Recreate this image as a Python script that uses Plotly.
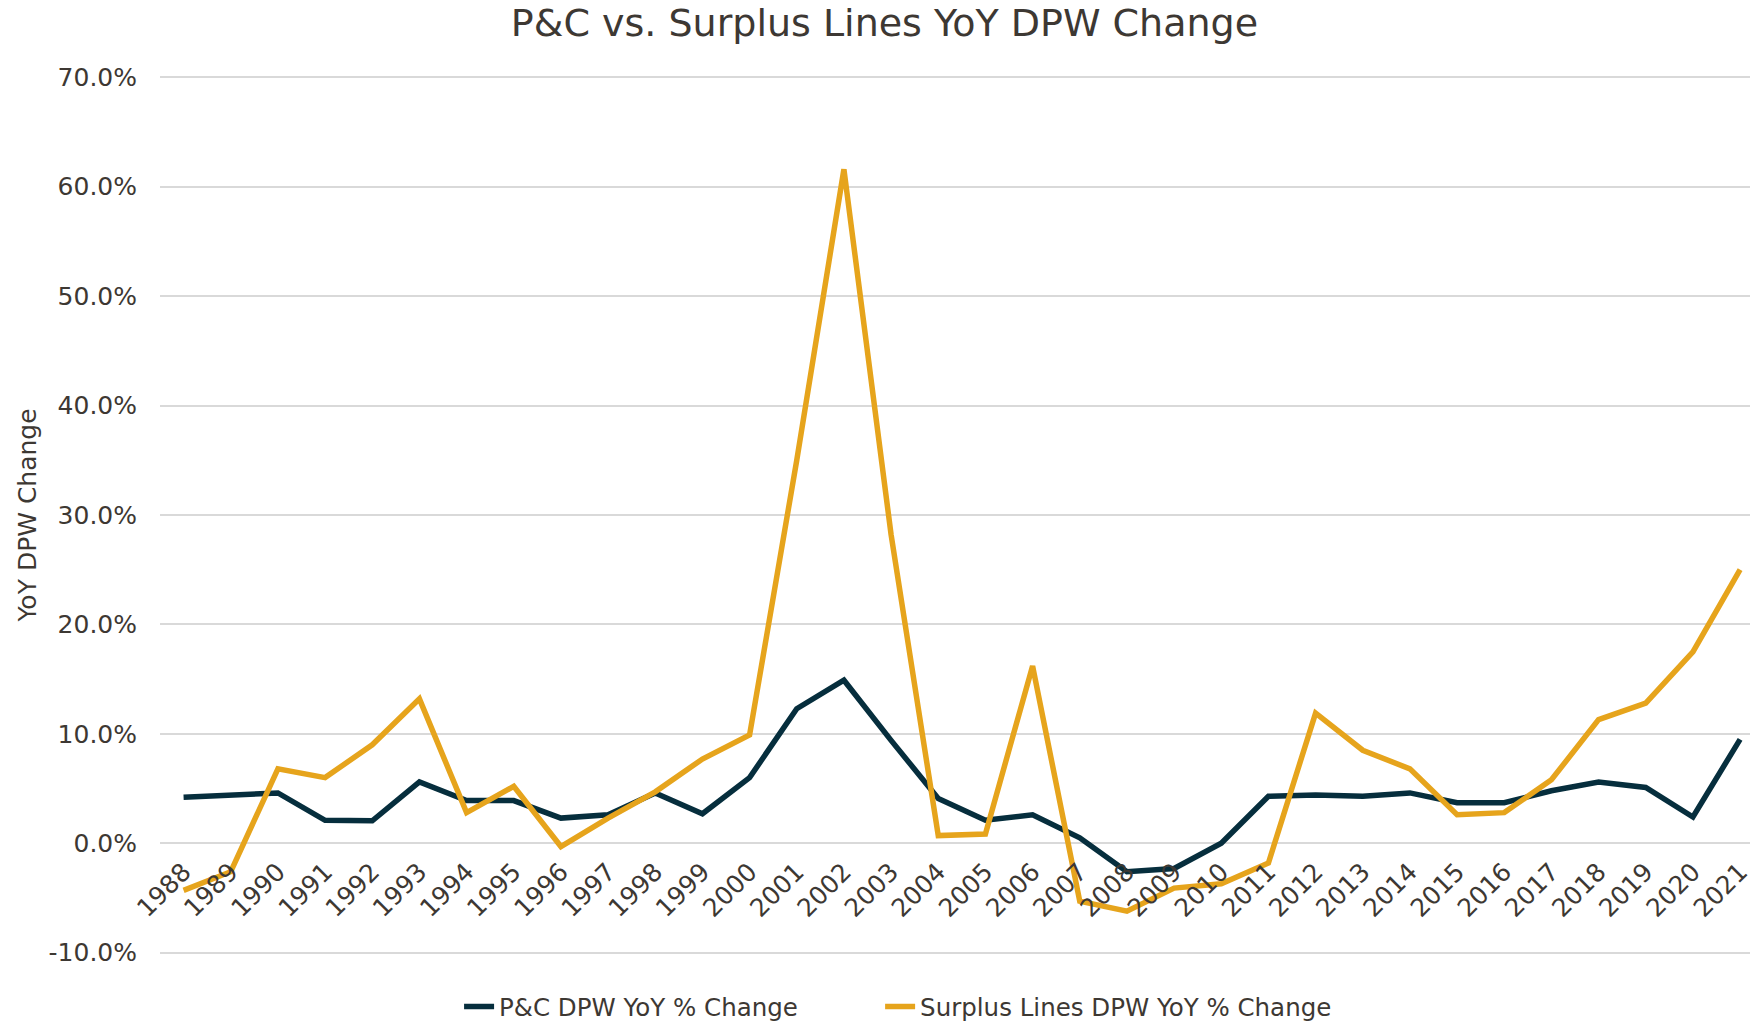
import plotly.graph_objects as go

years = list(range(1988, 2022))
pc_change = [4.2, 4.4, 4.6, 2.1, 2.05, 5.6, 3.9, 3.9, 2.3, 2.6, 4.6, 2.7,
             6.0, 12.3, 14.9, 9.4, 4.1, 2.1, 2.6, 0.5, -2.6, -2.3, 0.0, 4.3,
             4.4, 4.3, 4.6, 3.7, 3.7, 4.8, 5.6, 5.1, 2.4, 9.5]
sl_change = [-4.3, -2.6, 6.8, 6.0, 9.0, 13.2, 2.8, 5.2, -0.3, 2.3, 4.7, 7.7,
             9.9, 35.0, 61.6, 28.2, 0.7, 0.85, 16.2, -5.3, -6.2, -4.1, -3.7, -1.8,
             11.9, 8.5, 6.8, 2.6, 2.8, 5.8, 11.3, 12.8, 17.5, 25.0]
y_ticks = [-10, 0, 10, 20, 30, 40, 50, 60, 70]
y_tick_labels = [f"{v:.1f}%" for v in y_ticks]

NAVY = "#062E3D"
GOLD = "#E6A41C"
TEXT = "#3D3833"
GRID = "#D9D9D9"
FONT = "Verdana, DejaVu Sans, sans-serif"

Y_MIN, Y_MAX = -10.12, 70.12

fig = go.Figure()
fig.add_trace(go.Scatter(x=years, y=pc_change, mode="lines",
                         name="P&C DPW YoY % Change", legend="legend",
                         line=dict(color=NAVY, width=5.5)))
fig.add_trace(go.Scatter(x=years, y=sl_change, mode="lines",
                         name="Surplus Lines DPW YoY % Change", legend="legend2",
                         line=dict(color=GOLD, width=5.5)))

legend_common = dict(orientation="h", xref="paper", xanchor="left",
                     y=-0.06, yanchor="middle",
                     font=dict(family=FONT, size=24.5, color=TEXT),
                     bgcolor="rgba(0,0,0,0)")

fig.update_layout(
    width=1750, height=1021,
    paper_bgcolor="white", plot_bgcolor="white",
    margin=dict(l=160, r=0, t=76, b=67, autoexpand=False),
    font=dict(family=FONT, size=25, color=TEXT),
    title=dict(text="P&C vs. Surplus Lines YoY DPW Change",
               x=0.5054, xref="container", xanchor="center",
               y=1 - 23 / 1021, yref="container", yanchor="middle",
               font=dict(family=FONT, size=38, color=TEXT)),
    showlegend=True,
    legend=dict(x=0.1881, **legend_common),
    legend2=dict(x=0.4529, **legend_common),
    xaxis=dict(range=[1987.5, 2021.21], tickmode="array", tickvals=years,
               ticktext=[str(y) for y in years], tickangle=-45,
               showgrid=False, zeroline=False, showline=False,
               anchor="free", position=(0 - Y_MIN) / (Y_MAX - Y_MIN),
               ticks="outside", ticklen=3, tickcolor="rgba(0,0,0,0)",
               ticklabeloverflow="allow",
               tickfont=dict(family=FONT, size=25, color=TEXT)),
    yaxis=dict(range=[Y_MIN, Y_MAX], tickmode="array", tickvals=y_ticks,
               ticktext=y_tick_labels, showgrid=True, gridcolor=GRID,
               gridwidth=2, zeroline=False, showline=False,
               ticks="outside", ticklen=17, tickcolor="rgba(0,0,0,0)",
               tickfont=dict(family=FONT, size=25, color=TEXT),
               title=dict(text="YoY DPW Change", standoff=4,
                          font=dict(family=FONT, size=25, color=TEXT))),
)

fig.write_html("out.html", config={"displayModeBar": False},
               post_script="document.body.style.margin='0';")
